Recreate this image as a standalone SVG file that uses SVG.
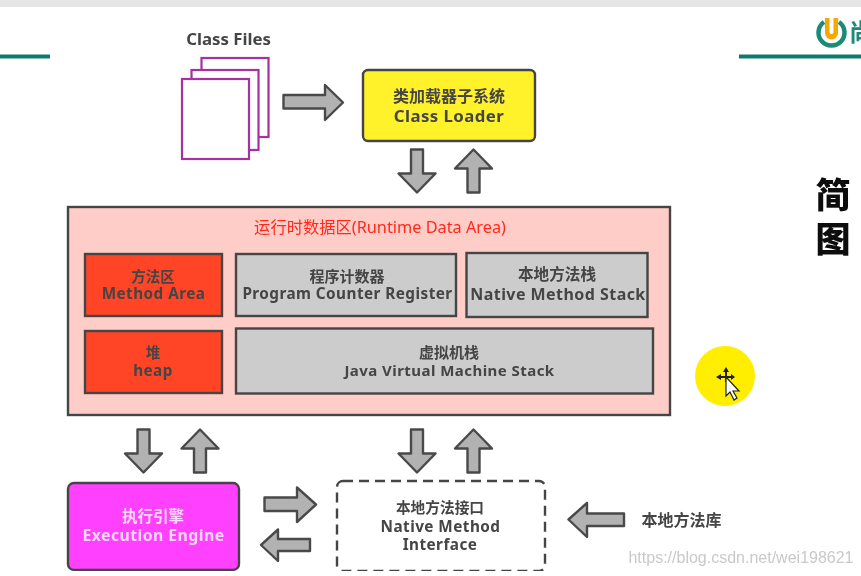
<svg xmlns="http://www.w3.org/2000/svg" width="861" height="576" viewBox="0 0 861 576">
<style>
text{font-family:"Noto Sans","Noto Sans CJK SC",sans-serif;font-weight:700;text-anchor:middle;fill:#444}
.cn{font-family:"Noto Sans CJK SC",sans-serif;font-size:15px}
.en{font-size:15.300px;letter-spacing:.45px}
.box{stroke:#444;stroke-width:2.4}
.red{fill:#ff4528}
.gray{fill:#ccc}
.page{fill:#fff;stroke:#a5309f;stroke-width:2.2}
.arrow{fill:#b2b2b2;stroke:#4a4a4a;stroke-width:2.4;stroke-linejoin:round}
.teal{fill:#0f7a70}
</style>
<defs>
<path id="down" d="M-6 -21.500H6V2.500H18.500L0 21.500L-18.500 2.500H-6Z"/>
<path id="up" d="M-6 21.500H6V-2.500H18.500L0 -21.500L-18.500 -2.500H-6Z"/>
<filter id="soft" x="0" y="0" width="100%" height="100%"><feGaussianBlur stdDeviation="0.4"/></filter>
</defs>
<rect width="861" height="576" fill="#fff"/>
<g filter="url(#soft)">
<rect id="top-bar" width="861" height="7" fill="#e6e6e6"/>
<g id="header">
<rect class="teal" x="0" y="54.500" width="50" height="4"/>
<rect class="teal" x="739" y="54.500" width="122" height="4"/>
<path d="M824 22A13 13 0 1 0 839 22" fill="none" stroke="#1c8a76" stroke-width="4.500"/>
<path d="M825 18H838V33A6.500 6.500 0 0 1 825 33Z" fill="#f6a800"/>
<path d="M829.500 18H833.500V32A2 2 0 0 1 829.500 32Z" fill="#fff"/>
<text x="861" y="41" style="font-family:'Noto Sans CJK SC',sans-serif;font-size:24px;fill:#1c8a76">尚</text>
<text x="833" y="208" style="font-family:'Noto Sans CJK SC',sans-serif;font-size:35px;font-weight:900;fill:#111">简</text>
<text x="833" y="252" style="font-family:'Noto Sans CJK SC',sans-serif;font-size:35px;font-weight:900;fill:#111">图</text>
</g>
<g id="class-files">
<rect class="page" x="201.500" y="58" width="67" height="79"/>
<rect class="page" x="191.500" y="70" width="67" height="80"/>
<rect class="page" x="182" y="79" width="67" height="80"/>
<text x="228.500" y="45" style="font-size:16.800px">Class Files</text>
</g>
<g id="class-loader">
<rect class="box" x="363" y="70" width="172" height="71" rx="5" fill="#fff22a"/>
<text class="cn" x="449" y="102" style="font-size:16px">类加载器子系统</text>
<text class="en" x="449" y="121.500" style="font-size:16.800px">Class Loader</text>
</g>
<g id="runtime-data-area">
<rect class="box" x="68" y="207" width="602" height="208" fill="#ffcdc8"/>
<text x="380" y="233" style="font-size:16.300px;font-weight:400;fill:#ff2a1c">运行时数据区(Runtime Data Area)</text>
</g>
<g id="method-area">
<rect class="box red" x="85" y="254" width="137" height="62"/>
<text class="cn" x="153" y="282" style="font-size:14.500px">方法区</text>
<text class="en" x="153.500" y="299">Method Area</text>
</g>
<g id="pc-register">
<rect class="box gray" x="236" y="254" width="220" height="62"/>
<text class="cn" x="347" y="282">程序计数器</text>
<text class="en" x="347.500" y="299">Program Counter Register</text>
</g>
<g id="native-method-stack">
<rect class="box gray" x="466.500" y="253" width="181" height="64"/>
<text class="cn" x="557" y="280" style="font-size:15.600px">本地方法栈</text>
<text class="en" x="558" y="300" style="font-size:16px">Native Method Stack</text>
</g>
<g id="heap">
<rect class="box red" x="85" y="331" width="137" height="62"/>
<text class="cn" x="153" y="358" style="font-size:14.500px">堆</text>
<text class="en" x="153" y="376">heap</text>
</g>
<g id="jvm-stack">
<rect class="box gray" x="236" y="328.500" width="417" height="65"/>
<text class="cn" x="449" y="358">虚拟机栈</text>
<text class="en" x="449.500" y="376" style="font-size:15px">Java Virtual Machine Stack</text>
</g>
<g id="execution-engine">
<rect class="box" x="68" y="483" width="171" height="87" rx="6" fill="#ff40ff"/>
<text class="cn" x="153" y="522" style="fill:#ffd8ff;font-size:15.500px">执行引擎</text>
<text class="en" x="153.500" y="541" style="fill:#ffd8ff;font-size:15.800px">Execution Engine</text>
</g>
<g id="native-interface">
<rect x="337" y="481" width="208" height="90" rx="6" fill="#fff" stroke="#444" stroke-width="2.400" stroke-dasharray="10 6"/>
<text class="cn" x="440" y="513" style="font-size:14.700px">本地方法接口</text>
<text class="en" x="440.500" y="532">Native Method</text>
<text class="en" x="440" y="550">Interface</text>
</g>
<g id="native-library">
<text class="cn" x="681.500" y="526" style="font-size:16px">本地方法库</text>
</g>
<g id="connectors" class="arrow">
<path d="M283.500 95H325V85L343 102.500L325 120V108.500H283.500Z"/>
<use href="#down" x="417" y="171"/>
<use href="#up" x="473.500" y="171"/>
<use href="#down" x="143.500" y="451"/>
<use href="#up" x="200" y="451"/>
<use href="#down" x="417" y="451"/>
<use href="#up" x="473.500" y="451"/>
<path d="M264.500 497.500H297V487.500L316 504.500L297 522V511H264.500Z"/>
<path d="M310 539H278V529.500L261 545L278 561V551H310Z"/>
<path d="M624 513.500H587V503L568.500 519.500L587 537V526H624Z"/>
</g>
<g id="cursor-highlight">
<circle cx="725" cy="376" r="30" fill="#ffee00"/>
<path d="M726 367L729 372H727V376H731V374L735 377L731 380V378H727V382H725V378H721V380L716 377L721 374V376H725V372H723Z" fill="#222"/>
<path d="M726 377V396L730 392L734 400L737 398L733 391H739Z" fill="#fff" stroke="#222" stroke-width="1.200"/>
</g>
<text id="watermark" x="741" y="563" style="font-family:'Liberation Sans',sans-serif;font-size:16px;font-weight:400;fill:#c9c9c9">https://blog.csdn.net/wei198621</text>
</g>
</svg>
